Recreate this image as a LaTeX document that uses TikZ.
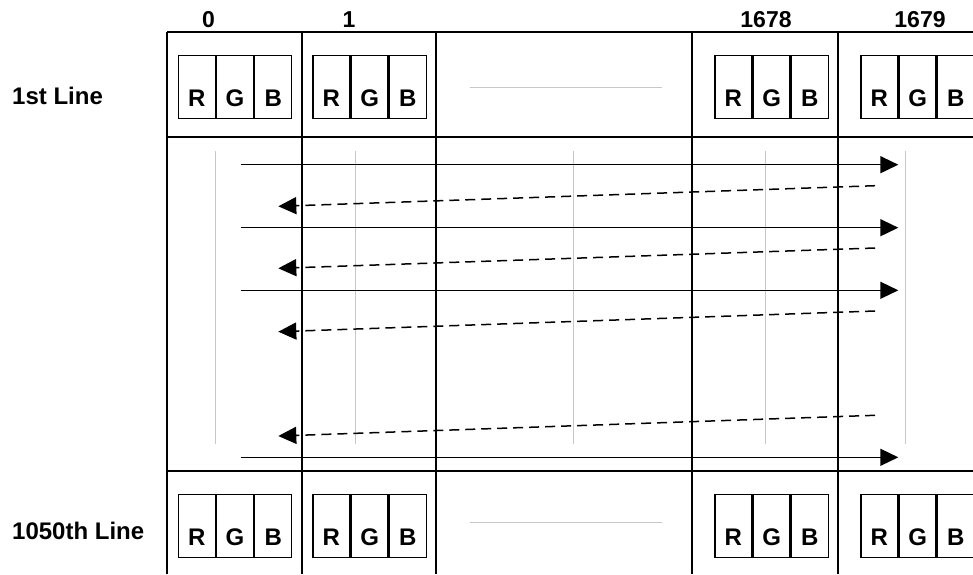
\documentclass[tikz,border=0pt]{standalone}
\usepackage{fontspec}
\setmainfont{Liberation Sans}
\usetikzlibrary{arrows.meta}
\tikzset{
  gridline/.style={line width=2.2pt},
  faint/.style={line width=0.8pt, draw=black!22},
  cellbox/.style={draw, line width=1.3pt, minimum width=36.9pt, minimum height=62.6pt,
    inner sep=0pt, text height=38pt, text depth=0pt, anchor=west,
    font=\fontsize{24}{28}\selectfont\bfseries},
  lbl/.style={inner sep=0pt, font=\fontsize{23}{28}\selectfont\bfseries},
  rowlbl/.style={inner sep=0pt, font=\fontsize{24}{28}\selectfont\bfseries},
  fwd/.style={line width=1.5pt, -{Triangle[length=18pt,width=17pt]}},
  back/.style={line width=1.5pt, dash pattern=on 10pt off 6pt, -{Triangle[length=18pt,width=17pt]}}
}
\begin{document}
\begin{tikzpicture}[x=1pt,y=-1pt]
\useasboundingbox (0,0) rectangle (973,574);
% grid
\foreach \yy in {32,137,471} \draw[gridline] (167,\yy) -- (973,\yy);
\foreach \xx in {167,302,436,692,838} \draw[gridline] (\xx,32) -- (\xx,574);
% faint guide lines
\foreach \xx in {215,355,573,765,905} \draw[faint] (\xx,151) -- (\xx,444);
\draw[faint] (470,87.3) -- (662,87.3);
\draw[faint] (470,522) -- (662,522);
% column labels
\node[lbl, anchor=base] (c0) at (208.5,27) {0};
\node[lbl, anchor=base] (c1) at (349,27) {1};
\node[lbl, anchor=base] (c1678) at (766,27) {1678};
\node[lbl, anchor=base] (c1679) at (920,27) {1679};
% row labels
\node[rowlbl, anchor=base west] (r1) at (12,104.5) {1st Line};
\node[rowlbl, anchor=base west] (r1050) at (12,539.3) {1050th Line};
% RGB boxes
\foreach \nm/\xx in {a/177.7, b/312.3, c/714.3, d/860.3} {
  \foreach \rw/\yy in {t/87, u/526} {
    \node[cellbox] (\nm\rw R) at (\xx,\yy) {R};
    \node[cellbox] (\nm\rw G) at (\nm\rw R.east) {G};
    \node[cellbox] (\nm\rw B) at (\nm\rw G.east) {B};
  }
}
% scan arrows
\foreach \i/\yy in {1/164.7, 2/227.7, 3/290.3, 4/457.3} {
  \coordinate (fs\i) at (240.7,\yy);
  \coordinate (fe\i) at (898.3,\yy);
  \draw[fwd] (fs\i) -- (fe\i);
}
\foreach \i/\ya/\yb in {1/185.7/206.3, 2/248/268.3, 3/311/331.7, 4/415.3/436} {
  \coordinate (bs\i) at (875,\ya);
  \coordinate (be\i) at (278.3,\yb);
  \draw[back] (bs\i) -- (be\i);
}
\end{tikzpicture}
\end{document}
